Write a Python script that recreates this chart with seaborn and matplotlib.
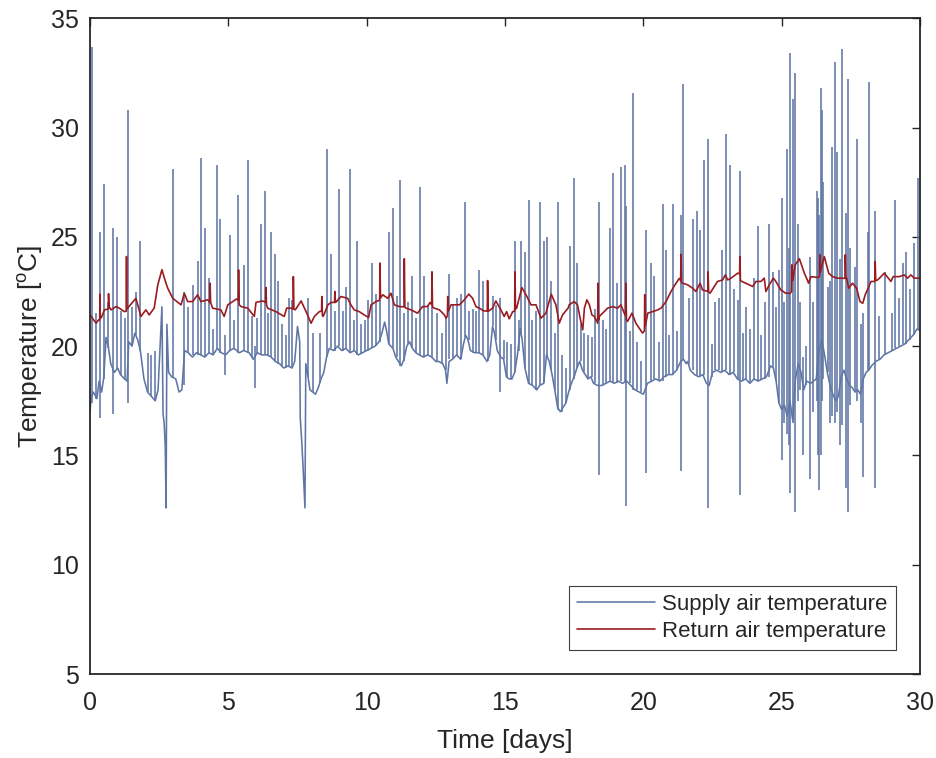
import numpy as np
import pandas as pd
import matplotlib
matplotlib.use("Agg")
import matplotlib.pyplot as plt
import seaborn as sns

# Supply air temperature, slow part of the trace: (day, degC)
supply_trace = np.array([
    (0.00, 17.0), (0.04, 17.6), (0.12, 17.9), (0.25, 17.6), (0.33, 18.4), (0.42, 17.9),
    (0.50, 18.6), (0.58, 20.4), (0.66, 20.0), (0.75, 19.2), (0.88, 18.8), (1.00, 19.0),
    (1.10, 18.7), (1.25, 18.5), (1.34, 18.4), (1.40, 20.2), (1.52, 20.0), (1.62, 20.6),
    (1.72, 20.3), (1.82, 19.8), (1.95, 18.5), (2.08, 17.9), (2.22, 17.7), (2.36, 17.5),
    (2.46, 18.0), (2.55, 20.5), (2.60, 21.8), (2.64, 16.9), (2.68, 16.5), (2.72, 15.4),
    (2.75, 12.6), (2.78, 21.0), (2.84, 18.8), (2.95, 18.6), (3.10, 18.5), (3.22, 17.9),
    (3.32, 18.0), (3.42, 19.8), (3.55, 19.7), (3.70, 19.5), (3.85, 19.7), (4.00, 19.6),
    (4.15, 19.5), (4.30, 19.7), (4.45, 19.6), (4.60, 19.9), (4.75, 19.7), (4.90, 19.6),
    (5.05, 19.8), (5.20, 19.9), (5.40, 19.7), (5.55, 19.8), (5.75, 19.7), (5.90, 19.4),
    (6.05, 19.7), (6.20, 19.6), (6.40, 19.6), (6.55, 19.5), (6.70, 19.3), (6.85, 19.2),
    (7.00, 19.0), (7.15, 19.1), (7.30, 19.0), (7.40, 19.3), (7.50, 20.9), (7.58, 20.2),
    (7.60, 16.7), (7.66, 15.5), (7.70, 14.5), (7.77, 12.6), (7.80, 19.2), (7.88, 18.6),
    (7.95, 18.0), (8.05, 17.9), (8.15, 17.8), (8.25, 18.1), (8.35, 18.5), (8.45, 18.8),
    (8.55, 19.5), (8.65, 19.9), (8.80, 19.8), (8.95, 20.0), (9.10, 19.8), (9.25, 19.9),
    (9.40, 19.7), (9.55, 19.8), (9.70, 19.6), (9.85, 19.7), (10.00, 19.8), (10.15, 19.9),
    (10.30, 20.0), (10.45, 20.2), (10.55, 20.6), (10.65, 21.1), (10.72, 20.7), (10.80, 20.1),
    (10.95, 19.9), (11.05, 19.5), (11.15, 19.3), (11.25, 19.1), (11.35, 19.4), (11.45, 20.0),
    (11.55, 20.2), (11.65, 19.9), (11.78, 19.7), (11.90, 19.6), (12.05, 19.5), (12.20, 19.6),
    (12.35, 19.5), (12.50, 19.3), (12.60, 19.3), (12.75, 19.2), (12.85, 18.9), (12.90, 18.3),
    (12.98, 19.3), (13.10, 19.4), (13.25, 19.6), (13.40, 19.4), (13.50, 20.1), (13.58, 20.5),
    (13.66, 20.3), (13.75, 19.8), (13.90, 19.7), (14.05, 19.7), (14.20, 19.6), (14.35, 19.3),
    (14.45, 19.6), (14.55, 20.9), (14.62, 20.6), (14.72, 19.8), (14.85, 19.5), (14.95, 19.4),
    (15.05, 18.6), (15.15, 18.5), (15.25, 18.5), (15.35, 18.8), (15.45, 19.6), (15.55, 20.8),
    (15.62, 20.3), (15.72, 19.0), (15.85, 18.3), (16.00, 18.2), (16.15, 18.0), (16.25, 18.2),
    (16.40, 18.3), (16.50, 19.6), (16.60, 19.3), (16.70, 18.7), (16.80, 18.0), (16.90, 17.2),
    (17.00, 17.0), (17.10, 17.2), (17.20, 17.4), (17.30, 17.9), (17.40, 18.3), (17.50, 18.6),
    (17.60, 19.0), (17.70, 19.3), (17.80, 18.9), (17.90, 18.7), (18.00, 18.5), (18.10, 18.6),
    (18.20, 18.3), (18.35, 18.2), (18.50, 18.2), (18.65, 18.3), (18.80, 18.4), (18.95, 18.3),
    (19.10, 18.4), (19.25, 18.3), (19.40, 18.4), (19.55, 18.2), (19.70, 18.0), (19.85, 17.9),
    (20.00, 17.8), (20.15, 18.3), (20.30, 18.4), (20.45, 18.5), (20.60, 18.4), (20.75, 18.6),
    (20.90, 18.7), (21.05, 18.7), (21.20, 18.9), (21.35, 19.3), (21.45, 19.4), (21.55, 19.2),
    (21.60, 19.3), (21.70, 18.9), (21.85, 18.7), (22.00, 18.6), (22.15, 18.7), (22.28, 18.3),
    (22.38, 18.2), (22.50, 18.8), (22.65, 18.9), (22.80, 18.8), (22.95, 18.9), (23.10, 18.7),
    (23.25, 18.8), (23.40, 18.5), (23.55, 18.4), (23.70, 18.5), (23.85, 18.3), (24.00, 18.5),
    (24.15, 18.4), (24.30, 18.5), (24.45, 18.6), (24.60, 19.1), (24.70, 19.0), (24.80, 18.4),
    (24.90, 17.4), (25.00, 17.1), (25.10, 17.3), (25.20, 16.8), (25.30, 17.5), (25.40, 16.6),
    (25.50, 18.5), (25.60, 19.2), (25.70, 18.8), (25.80, 18.0), (25.90, 18.4), (26.05, 18.3),
    (26.15, 18.4), (26.25, 18.5), (26.35, 19.8), (26.45, 20.3), (26.55, 19.6), (26.65, 18.8),
    (26.75, 18.2), (26.85, 17.8), (26.95, 17.5), (27.05, 17.7), (27.15, 18.6), (27.25, 18.9),
    (27.35, 18.5), (27.45, 18.2), (27.55, 18.1), (27.65, 17.9), (27.75, 18.0), (27.85, 17.8),
    (27.95, 18.5), (28.05, 18.8), (28.15, 18.9), (28.25, 19.1), (28.40, 19.3), (28.55, 19.4),
    (28.70, 19.6), (28.85, 19.7), (29.00, 19.8), (29.15, 19.9), (29.30, 20.0), (29.45, 20.1),
    (29.60, 20.3), (29.75, 20.5), (29.90, 20.8), (30.00, 20.7),
])

# Supply air temperature, short excursions: (day, from degC, to degC)
supply_spikes = np.array([
    (0.07, 17.4, 33.7), (0.22, 17.6, 21.5), (0.36, 16.7, 25.2), (0.52, 18.5, 27.4),
    (0.66, 19.9, 22.0), (0.82, 16.9, 25.4), (0.98, 18.9, 25.0), (1.12, 18.7, 21.6),
    (1.26, 18.5, 21.3), (1.36, 17.4, 30.8), (1.50, 20.0, 21.8), (1.66, 20.5, 22.5),
    (1.81, 19.8, 24.8), (2.08, 17.9, 19.7), (2.20, 17.7, 19.6), (2.36, 17.5, 19.8),
    (2.99, 18.6, 28.1), (3.41, 18.2, 22.5), (3.56, 19.7, 21.8), (3.73, 19.6, 22.8),
    (3.89, 19.6, 23.9), (4.01, 19.6, 28.6), (4.16, 19.5, 25.4), (4.31, 19.7, 23.1),
    (4.44, 19.6, 20.8), (4.59, 19.9, 28.3), (4.71, 19.7, 25.8), (4.88, 18.7, 20.5),
    (5.06, 19.8, 25.1), (5.22, 19.9, 21.2), (5.35, 19.7, 26.9), (5.55, 19.8, 23.7),
    (5.70, 19.7, 28.5), (5.85, 19.5, 21.4), (5.96, 18.1, 20.0), (6.05, 19.7, 21.3),
    (6.18, 19.6, 25.6), (6.32, 19.6, 27.1), (6.43, 19.6, 21.5), (6.53, 19.5, 25.2),
    (6.69, 19.3, 24.2), (6.81, 19.2, 23.0), (6.94, 19.1, 21.0), (7.07, 19.0, 20.5),
    (7.20, 19.1, 22.2), (7.30, 19.0, 22.1), (7.87, 18.6, 22.2), (8.05, 17.9, 20.6),
    (8.31, 18.3, 20.6), (8.57, 19.5, 29.0), (8.70, 19.9, 24.2), (8.85, 19.8, 21.6),
    (8.99, 20.0, 27.2), (9.13, 19.8, 21.6), (9.25, 19.9, 22.7), (9.38, 19.7, 28.1),
    (9.53, 19.8, 21.2), (9.65, 19.6, 24.8), (9.79, 19.7, 21.0), (9.94, 19.8, 21.2),
    (10.06, 19.8, 22.1), (10.19, 19.9, 23.8), (10.34, 20.0, 22.4), (10.48, 20.2, 22.1),
    (10.79, 20.1, 25.2), (10.94, 19.9, 26.3), (11.08, 19.5, 22.3), (11.22, 19.1, 27.6),
    (11.36, 19.3, 21.5), (11.50, 20.1, 22.0), (11.64, 19.9, 23.2), (11.78, 19.7, 21.3),
    (11.93, 19.6, 27.3), (12.06, 19.5, 23.2), (12.20, 19.6, 21.9), (12.36, 19.5, 23.4),
    (12.56, 19.3, 21.5), (12.72, 19.2, 20.6), (12.87, 18.9, 21.3), (12.99, 19.4, 23.3),
    (13.13, 19.4, 21.9), (13.26, 19.6, 22.2), (13.41, 19.4, 22.4), (13.55, 20.4, 26.6),
    (13.69, 20.3, 21.6), (13.83, 19.7, 21.7), (13.95, 19.7, 21.6), (14.07, 19.7, 23.5),
    (14.22, 19.6, 23.0), (14.37, 19.3, 23.0), (14.55, 20.9, 22.3), (14.67, 20.3, 21.9),
    (14.82, 17.9, 22.2), (14.96, 19.4, 20.3), (15.07, 18.6, 20.2), (15.22, 18.5, 20.1),
    (15.36, 18.8, 24.8), (15.50, 19.8, 21.2), (15.58, 20.6, 24.8), (15.72, 19.0, 24.3),
    (15.85, 18.3, 26.7), (15.97, 18.2, 21.2), (16.12, 18.0, 21.6), (16.26, 18.2, 26.6),
    (16.40, 18.3, 24.8), (16.52, 19.5, 25.0), (16.66, 18.9, 23.0), (16.80, 18.0, 20.6),
    (16.93, 17.1, 26.6), (17.06, 17.0, 19.6), (17.20, 17.4, 19.0), (17.35, 18.0, 24.6),
    (17.48, 18.5, 27.7), (17.61, 19.0, 23.8), (17.74, 19.3, 21.0), (17.87, 18.8, 20.6),
    (18.00, 18.5, 20.5), (18.14, 18.6, 20.4), (18.26, 18.3, 21.7), (18.38, 14.1, 26.6),
    (18.53, 18.2, 21.2), (18.65, 18.3, 20.8), (18.78, 18.4, 25.4), (18.91, 18.3, 27.9),
    (19.05, 18.3, 22.9), (19.19, 18.4, 28.2), (19.32, 18.3, 28.3), (19.38, 12.7, 26.4),
    (19.50, 18.3, 20.7), (19.63, 18.0, 31.6), (19.76, 18.0, 20.2), (19.91, 17.9, 19.3),
    (20.10, 14.2, 25.3), (20.28, 18.4, 23.8), (20.40, 18.5, 23.2), (20.55, 18.4, 20.2),
    (20.70, 18.4, 26.5), (20.82, 18.6, 24.4), (20.94, 18.7, 20.5), (21.06, 18.7, 26.5),
    (21.20, 18.9, 20.7), (21.37, 14.3, 26.0), (21.44, 19.4, 32.0), (21.64, 19.2, 22.2),
    (21.78, 18.9, 25.8), (21.94, 18.7, 26.2), (22.06, 18.6, 25.3), (22.19, 18.7, 28.5),
    (22.34, 12.6, 29.5), (22.47, 18.6, 20.1), (22.60, 18.9, 22.0), (22.73, 18.9, 22.2),
    (22.85, 18.8, 24.4), (22.99, 18.9, 29.7), (23.12, 18.7, 28.3), (23.26, 18.8, 22.6),
    (23.41, 18.5, 22.1), (23.49, 13.2, 28.0), (23.62, 18.4, 20.6), (23.71, 18.5, 21.8),
    (23.85, 18.3, 20.8), (24.00, 18.5, 23.1), (24.13, 18.4, 25.5), (24.26, 18.5, 20.5),
    (24.38, 18.5, 22.0), (24.53, 18.6, 25.6), (24.67, 19.0, 23.4), (24.80, 18.4, 21.8),
    (24.91, 17.4, 23.5), (25.01, 14.8, 26.8), (25.10, 16.5, 22.0), (25.19, 16.0, 29.0),
    (25.26, 15.5, 24.5), (25.31, 13.3, 33.4), (25.41, 16.5, 31.3), (25.48, 12.4, 32.5),
    (25.58, 17.5, 25.6), (25.68, 18.0, 22.0), (25.76, 15.0, 19.5), (25.88, 18.2, 20.0),
    (26.02, 13.9, 24.1), (26.12, 17.0, 22.0), (26.27, 17.5, 27.1), (26.33, 15.0, 26.8),
    (26.36, 13.4, 26.0), (26.41, 15.0, 31.8), (26.44, 17.5, 30.8), (26.50, 18.5, 27.5),
    (26.66, 18.8, 22.7), (26.75, 16.5, 23.0), (26.82, 16.8, 29.1), (26.91, 16.5, 33.0),
    (27.01, 17.0, 28.9), (27.10, 15.5, 24.0), (27.19, 16.4, 33.6), (27.32, 13.5, 26.1),
    (27.41, 12.4, 32.2), (27.48, 17.3, 24.5), (27.65, 17.9, 23.6), (27.74, 17.5, 29.5),
    (27.85, 16.5, 21.0), (27.94, 14.0, 21.5), (28.13, 18.9, 25.2), (28.17, 18.9, 32.1),
    (28.37, 13.5, 26.2), (28.53, 19.4, 21.4), (28.72, 19.6, 23.4), (28.99, 19.8, 21.5),
    (29.11, 19.9, 26.7), (29.25, 20.0, 22.2), (29.37, 20.1, 23.8), (29.49, 20.1, 24.3),
    (29.64, 20.3, 22.6), (29.77, 20.5, 24.7), (29.91, 20.8, 27.7),
])

# Return air temperature: (day, degC)
return_trace = np.array([
    (0.00, 21.40), (0.04, 21.36), (0.22, 21.05), (0.31, 21.20), (0.35, 21.20), (0.36, 22.38),
    (0.37, 21.30), (0.41, 21.30), (0.52, 21.66), (0.66, 21.70), (0.67, 22.40), (0.69, 21.80),
    (0.76, 21.66), (0.94, 21.81), (1.06, 21.74), (1.24, 21.58), (1.31, 21.60), (1.32, 24.10),
    (1.33, 21.70), (1.40, 21.80), (1.66, 22.19), (1.84, 21.36), (2.02, 21.66), (2.14, 21.43),
    (2.32, 21.74), (2.45, 22.80), (2.60, 23.50), (2.69, 23.10), (2.81, 22.65), (2.99, 22.19),
    (3.29, 21.89), (3.41, 22.42), (3.53, 22.04), (3.71, 22.04), (3.89, 22.35), (4.01, 22.04),
    (4.26, 22.12), (4.33, 22.00), (4.34, 22.88), (4.36, 22.00), (4.43, 21.74), (4.73, 21.66),
    (4.85, 21.36), (4.98, 21.89), (5.16, 22.04), (5.30, 22.16), (5.36, 22.10), (5.37, 23.49),
    (5.39, 21.90), (5.46, 21.81), (5.70, 21.74), (5.94, 21.36), (6.00, 22.00), (6.24, 22.07),
    (6.35, 22.00), (6.36, 22.68), (6.38, 21.90), (6.42, 21.74), (6.72, 21.58), (7.02, 21.36),
    (7.11, 21.74), (7.26, 21.74), (7.34, 21.70), (7.35, 23.18), (7.37, 21.70), (7.42, 21.66),
    (7.63, 22.07), (7.81, 21.58), (7.99, 21.05), (8.11, 21.36), (8.29, 21.58), (8.37, 21.60),
    (8.38, 22.27), (8.40, 21.40), (8.43, 21.36), (8.60, 21.89), (8.71, 22.00), (8.84, 22.00),
    (8.85, 22.50), (8.87, 22.00), (8.91, 22.04), (9.07, 22.27), (9.31, 22.19), (9.43, 21.89),
    (9.55, 21.66), (9.73, 21.58), (9.91, 21.43), (10.07, 21.31), (10.16, 21.89), (10.34, 22.04),
    (10.47, 22.10), (10.48, 23.80), (10.50, 22.20), (10.58, 22.35), (10.76, 22.19), (10.88, 22.42),
    (11.00, 21.89), (11.18, 21.81), (11.35, 21.80), (11.36, 24.00), (11.38, 21.80), (11.42, 21.74),
    (11.60, 21.66), (11.84, 21.51), (12.02, 21.81), (12.20, 21.81), (12.29, 22.00), (12.35, 21.90),
    (12.36, 23.40), (12.38, 21.80), (12.44, 21.74), (12.63, 21.66), (12.81, 21.43), (12.87, 21.28),
    (12.92, 21.40), (12.93, 22.27), (12.95, 21.60), (13.05, 21.89), (13.35, 21.89), (13.53, 22.12),
    (13.69, 22.38), (13.83, 22.19), (13.95, 21.81), (14.07, 21.74), (14.22, 21.62), (14.36, 21.60),
    (14.37, 23.00), (14.39, 21.60), (14.43, 21.62), (14.55, 21.74), (14.67, 22.07), (14.85, 21.66),
    (14.97, 21.36), (15.06, 21.58), (15.15, 21.25), (15.28, 21.58), (15.35, 21.60), (15.36, 23.40),
    (15.38, 21.70), (15.42, 21.74), (15.61, 22.68), (15.76, 22.35), (15.94, 21.89), (16.12, 21.89),
    (16.30, 21.28), (16.48, 21.51), (16.67, 22.38), (16.84, 21.89), (16.96, 21.05), (17.08, 21.43),
    (17.28, 21.74), (17.32, 21.89), (17.50, 22.04), (17.62, 21.89), (17.74, 21.13), (17.81, 20.75),
    (17.87, 21.74), (17.96, 22.12), (18.05, 21.89), (18.14, 21.43), (18.23, 21.36), (18.35, 21.05),
    (18.36, 22.88), (18.38, 21.20), (18.41, 21.36), (18.53, 21.51), (18.71, 21.74), (18.89, 21.81),
    (19.07, 21.74), (19.19, 21.89), (19.31, 21.51), (19.36, 21.40), (19.37, 22.88), (19.39, 21.20),
    (19.43, 21.13), (19.59, 21.51), (19.73, 21.05), (19.97, 20.60), (20.04, 20.70), (20.05, 22.35),
    (20.07, 20.90), (20.16, 21.51), (20.34, 21.58), (20.52, 21.66), (20.64, 21.74), (20.82, 22.04),
    (21.00, 22.50), (21.18, 22.88), (21.30, 23.10), (21.35, 23.00), (21.36, 24.20), (21.38, 22.90),
    (21.42, 22.88), (21.61, 22.80), (21.78, 22.65), (21.90, 22.50), (22.05, 22.88), (22.14, 22.57),
    (22.26, 22.53), (22.33, 22.50), (22.34, 23.40), (22.36, 22.50), (22.41, 22.42), (22.68, 22.96),
    (22.87, 23.03), (22.96, 23.26), (23.05, 23.03), (23.17, 23.11), (23.41, 23.34), (23.48, 23.30),
    (23.49, 24.10), (23.51, 23.00), (23.56, 22.96), (23.77, 22.84), (23.95, 22.73), (24.07, 22.96),
    (24.25, 22.96), (24.37, 23.11), (24.43, 22.50), (24.55, 22.80), (24.70, 23.11), (24.79, 22.96),
    (24.97, 22.57), (25.15, 22.42), (25.30, 22.42), (25.36, 22.50), (25.37, 23.72), (25.40, 23.00),
    (25.49, 23.72), (25.64, 24.00), (25.82, 23.34), (25.95, 22.96), (25.97, 22.88), (26.06, 23.18),
    (26.33, 23.14), (26.37, 23.20), (26.38, 24.18), (26.40, 23.40), (26.54, 24.10), (26.70, 23.34),
    (26.84, 23.18), (27.02, 23.11), (27.18, 23.11), (27.29, 23.10), (27.30, 24.18), (27.32, 23.10),
    (27.35, 23.11), (27.42, 22.65), (27.56, 22.88), (27.71, 22.65), (27.83, 22.04), (27.93, 21.96),
    (28.02, 22.35), (28.23, 22.96), (28.35, 22.96), (28.37, 23.00), (28.38, 23.87), (28.40, 23.00),
    (28.47, 23.03), (28.59, 23.18), (28.71, 23.34), (28.95, 22.96), (29.03, 23.18), (29.25, 23.18),
    (29.43, 23.26), (29.55, 23.11), (29.67, 23.26), (29.79, 23.11), (30.00, 23.11),
])

x_ticks = [0, 5, 10, 15, 20, 25, 30]
y_ticks = [5, 10, 15, 20, 25, 30, 35]

blue = '#5f76a5'
red = '#9a1c20'

sns.set_theme(style="white")
plt.rcParams['font.family'] = ['Liberation Sans', 'DejaVu Sans']
plt.rcParams['mathtext.fontset'] = 'custom'
plt.rcParams['mathtext.rm'] = 'Liberation Sans'
plt.rcParams['mathtext.it'] = 'Liberation Sans'

df_supply = pd.DataFrame(supply_trace, columns=['day', 'temp'])
df_return = pd.DataFrame(return_trace, columns=['day', 'temp'])

fig = plt.figure(figsize=(9.36, 7.58), dpi=100)
ax = fig.add_axes([90 / 936, 1 - 674 / 758, 830 / 936, (674 - 18.3) / 758])

sns.lineplot(data=df_supply, x='day', y='temp', color=blue, linewidth=1.15,
             estimator=None, sort=False, label='Supply air temperature', ax=ax)
ax.vlines(supply_spikes[:, 0], supply_spikes[:, 1], supply_spikes[:, 2],
          color=blue, linewidth=1.15)
sns.lineplot(data=df_return, x='day', y='temp', color=red, linewidth=1.2,
             estimator=None, sort=False, label='Return air temperature', ax=ax)

ax.set_xlim(0, 30)
ax.set_ylim(5, 35)
ax.set_xticks(x_ticks)
ax.set_yticks(y_ticks)
ax.set_xlabel('Time [days]', fontsize=19, labelpad=10)
ax.set_ylabel('Temperature [$^{\\mathrm{o}}$C]', fontsize=19, labelpad=4)
ax.tick_params(direction='in', top=True, right=True, length=6, width=1,
               labelsize=18, colors='#262626')
ax.tick_params(axis='x', pad=12)
ax.tick_params(axis='y', pad=8)
for side in ax.spines.values():
    side.set_color('#262626')
    side.set_linewidth(1.3)

leg = ax.legend(loc='lower right', fontsize=16, frameon=True, fancybox=False,
                edgecolor='#404040', framealpha=1, handlelength=3.5,
                handletextpad=0.35, labelspacing=0.25, borderpad=0.35,
                borderaxespad=1.1)
leg.get_frame().set_linewidth(0.8)

fig.savefig('out.png', dpi=100)
